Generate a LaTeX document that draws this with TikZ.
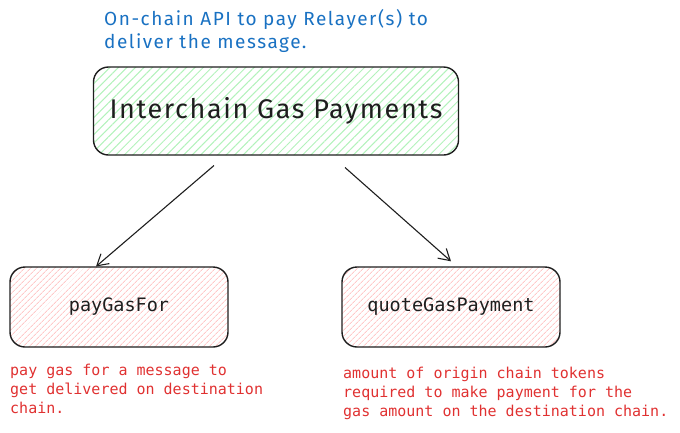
\documentclass[tikz,border=0pt]{standalone}
\usepackage{fontspec}
\setmainfont{Fira Sans}
\setmonofont{DejaVu Sans Mono}
\usetikzlibrary{arrows.meta,patterns.meta}

\definecolor{ink}{HTML}{1E1E1E}
\definecolor{noteblue}{HTML}{1971C2}
\definecolor{notered}{HTML}{E03131}
\definecolor{hatchgreen}{HTML}{B2F2BB}
\definecolor{hatchred}{HTML}{FFC9C9}

\begin{document}
\begin{tikzpicture}[
  x=1pt, y=-1pt,
  box/.style={draw=ink, line width=1.4pt, rounded corners=15pt,
              pattern={Lines[angle=45,distance=#1,line width=1pt]}},
  apibox/.style={box=6pt, pattern color=hatchgreen,
                 minimum width=365pt, minimum height=88pt,
                 font=\addfontfeature{LetterSpace=6}\fontsize{27}{30}\selectfont, text=ink},
  fnbox/.style={box=4pt, pattern color=hatchred,
                minimum width=218pt, minimum height=80pt,
                font=\ttfamily\fontsize{18.5}{22}\selectfont, text=ink},
  note/.style={anchor=north west, align=left, inner sep=0pt, #1},
  arrow/.style={-{Straight Barb[length=11pt,width=13pt]}, line width=1.1pt, draw=ink},
]
\useasboundingbox (0,0) rectangle (680,432);

% ── API box ──
\node[note=noteblue, font=\addfontfeature{LetterSpace=8}\fontsize{19}{23}\selectfont] (apinote) at (104,9)
  {On-chain API to pay Relayer(s) to\\deliver the message.};
\node[apibox] (igp) at (276,111) {Interchain Gas Payments};

% ── Functions ──
\node[fnbox] (pay) at (119,307) {payGasFor};
\node[fnbox] (quote) at (451,307) {quoteGasPayment};

\node[note=notered, font=\ttfamily\fontsize{15}{19}\selectfont] (paynote) at (10,364)
  {pay gas for a message to\\get delivered on destination\\chain.};
\node[note=notered, font=\ttfamily\fontsize{15}{19}\selectfont] (quotenote) at (343,367)
  {amount of origin chain tokens\\required to make payment for the\\gas amount on the destination chain.};

% ── Arrows ──
\draw[arrow] ([xshift=-62pt,yshift=-10pt]igp.south) -- ([xshift=-23pt]pay.north);
\draw[arrow] ([xshift=69pt,yshift=-12pt]igp.south) -- ([yshift=5pt]quote.north);

\end{tikzpicture}
\end{document}
